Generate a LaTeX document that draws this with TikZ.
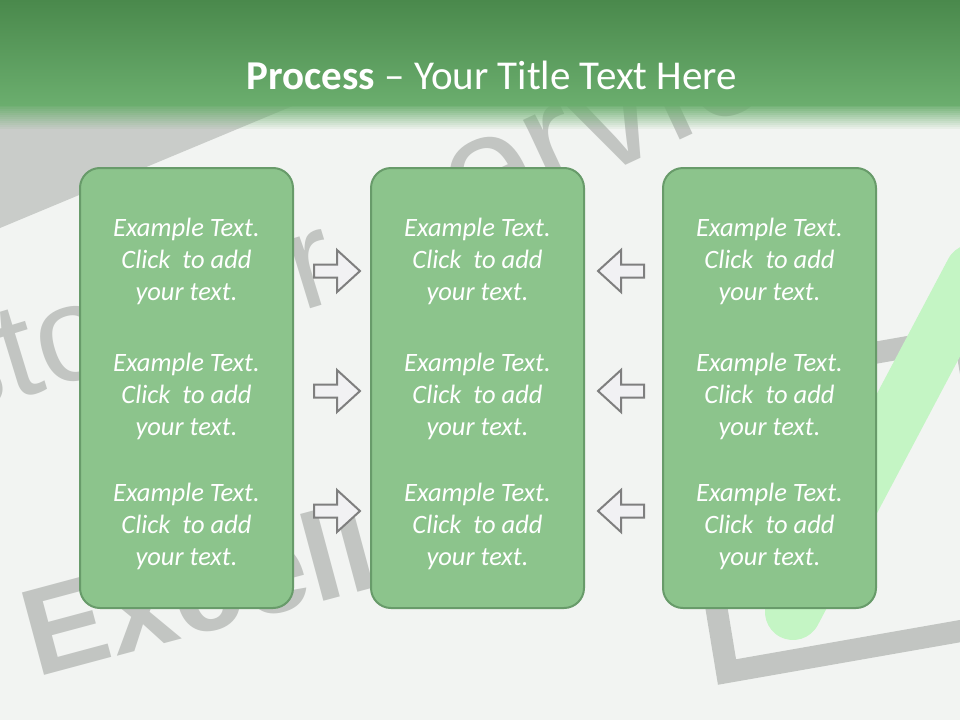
\documentclass[tikz,border=0pt]{standalone}
\usepackage{fontspec}
\setmainfont{Carlito}
\newfontfamily\wmfont{Liberation Sans}
\definecolor{bg}{HTML}{F2F4F2}
\definecolor{hdrtop}{HTML}{4A894C}
\definecolor{hdrbot}{HTML}{6BAE6E}
\definecolor{boxfill}{HTML}{8CC48C}
\definecolor{boxline}{HTML}{689B6A}
\definecolor{wm}{HTML}{C2C5C2}
\definecolor{band}{HTML}{C9CCC9}
\definecolor{chk}{HTML}{C4F5C4}
\definecolor{arrfill}{HTML}{F1F1F3}
\definecolor{arrline}{HTML}{7F7F7F}
\tikzset{
  stagebox/.style={draw=boxline, line width=2pt, fill=boxfill, rounded corners=20pt},
  boxtext/.style={text=white, align=center, font=\itshape\fontsize{26.5}{32}\selectfont, inner sep=0pt},
  wmtext/.style={text=wm, anchor=base west, inner sep=0pt},
  arrowshape/.style={draw=arrline, line width=2pt, fill=arrfill, line join=miter},
  rarr/.pic={\path[arrowshape] (-23,-6.5)--(0,-6.5)--(0,-21)--(23,0)--(0,21)--(0,6.5)--(-23,6.5)--cycle;},
  larr/.pic={\path[arrowshape] (23,-6.5)--(0,-6.5)--(0,-21)--(-23,0)--(0,21)--(0,6.5)--(23,6.5)--cycle;},
}
\newcommand\boxlines{Example Text.\\Click\ \ to add\\your text.}
\begin{document}
\begin{tikzpicture}[x=1pt,y=-1pt]
\useasboundingbox (0,0) rectangle (960,720);
\fill[bg] (0,0) rectangle (960,720);
% background scene
\begin{scope}
\clip (0,0) rectangle (960,720);
\fill[band] (0,105) -- (295,105) -- (0,228) -- cycle;
\node[wmtext, font=\wmfont\fontsize{136}{136}\selectfont, rotate=17] (wm1) at (-219,471) {\phantom{Cu}sto\phantom{me}r};
\node[wmtext, font=\wmfont\fontsize{160}{160}\selectfont, rotate=25] (wm2) at (372,284) {\phantom{S}ervice};
\node[wmtext, font=\wmfont\bfseries\fontsize{124}{124}\selectfont, rotate=15] (wm3) at (36,678) {Excelle};
\draw[wm, line width=22pt, line join=miter] (680,387) -- (727,672) -- (1012,622) -- (965,337) -- cycle;
\draw[chk, line width=56pt, line cap=round] (793,612) -- (973,272);
\end{scope}
% header
\shade[top color=hdrtop, bottom color=hdrbot] (0,0) rectangle (960,105.5);
\foreach \i in {0,...,11}{
  \pgfmathsetmacro\op{1-(\i+1)/13}
  \fill[hdrbot, opacity=\op] (0,105+2*\i) rectangle (960,107+2*\i);
}
\node[text=white, font=\fontsize{41}{48}\selectfont, inner sep=0pt] (title) at (492,75) {\textbf{Process} -- Your Title Text Here};
% boxes
\path[stagebox] (80,168) rectangle (293,608);
\path[stagebox] (371,168) rectangle (584,608);
\path[stagebox] (663,168) rectangle (876,608);
\foreach \bx/\nm in {186.5/L,477.5/M,769.5/R}{
  \foreach \y/\k in {261/1,396/2,526/3}{
    \node[boxtext] (\nm\k) at (\bx,\y) {\boxlines};
  }
}
% arrows
\foreach \y in {271,391,511}{
  \pic at (337,\y) {rarr};
  \pic at (621,\y) {larr};
}
\end{tikzpicture}
\end{document}
